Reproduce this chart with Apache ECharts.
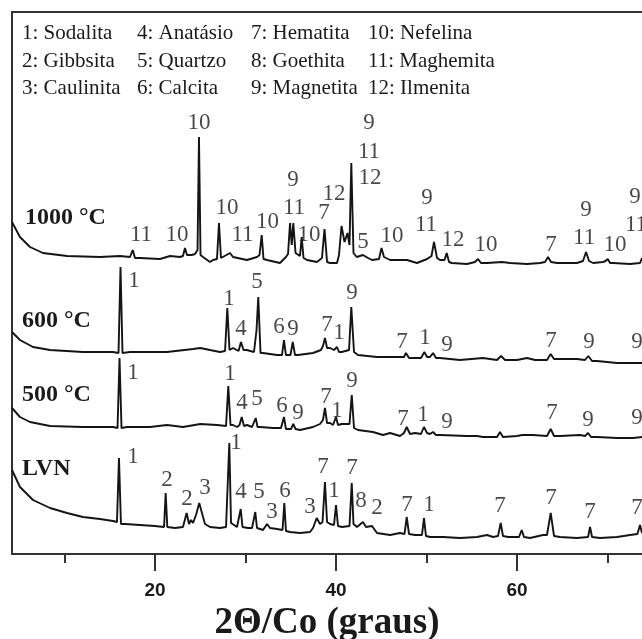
<!DOCTYPE html>
<html><head><meta charset="utf-8">
<script src="https://cdn.jsdelivr.net/npm/echarts@6/dist/echarts.min.js"></script>
<style>html,body{margin:0;padding:0;background:#fff}#c{width:642px;height:639px}</style>
</head><body><div id="c"></div>
<script>
// ---- axis ----
const majorTicks = [20, 40, 60];
const minorTicks = [10, 30, 50, 70];
const axisTitle = '2\u0398/Co (graus)';
const xMin = 4.2, xMax = 73.81;

// ---- legend (phase numbers) ----
const legendCol1 = ['1: Sodalita', '2: Gibbsita', '3: Caulinita'];
const legendCol2 = ['4: Anat\u00e1sio', '5: Quartzo', '6: Calcita'];
const legendCol3 = ['7: Hematita', '8: Goethita', '9: Magnetita'];
const legendCol4 = ['10: Nefelina', '11: Maghemita', '12: Ilmenita'];

const sampleNames = ['1000 \u00b0C', '600 \u00b0C', '500 \u00b0C', 'LVN'];

// ---- diffractograms: [2theta (deg), stacked intensity (a.u.)] ----
const lvn = [[4.20,84],[5.08,67],[6.52,54],[8.40,46],[10.28,41],[12.04,37],[13.92,35],[15.36,33],[15.80,32],[16.02,96],[16.24,30],[16.69,30],[18.34,29],[20.0,28],[21.0,27],[21.18,61],[21.36,27],[22.21,26],[23.09,27],[23.50,41],[23.76,30],[23.98,34],[24.20,31],[24.53,39],[24.89,51],[25.25,39],[25.52,30],[26.08,27],[27.18,26],[27.85,27],[28.01,29],[28.21,111],[28.40,31],[28.62,29],[29.06,27],[29.28,29],[29.47,45],[29.67,27],[30.28,26],[30.72,26],[30.89,27],[31.08,42],[31.27,26],[31.93,24],[32.38,30],[32.71,26],[33.48,25],[34.09,24],[34.29,51],[34.47,23],[34.92,22],[36.02,21],[37.13,22],[37.46,26],[37.87,36],[38.23,30],[38.51,32],[38.78,72],[39.01,32],[39.34,30],[39.78,29],[40.0,49],[40.22,28],[40.66,27],[41.49,28],[41.74,71],[41.93,30],[42.32,27],[42.98,32],[43.31,27],[43.98,28],[44.53,21],[45.97,19],[47.07,21],[47.57,20],[47.81,37],[48.07,20],[48.73,19],[49.50,19],[49.72,36],[49.94,18],[50.39,17],[51.82,17],[53.70,16],[55.58,17],[56.69,19],[57.35,17],[57.90,18],[58.20,31],[58.45,18],[59.01,17],[60.22,17],[60.52,24],[60.77,17],[61.44,16],[62.87,19],[63.31,19],[63.72,41],[64.09,18],[64.75,17],[66.63,16],[67.85,17],[68.07,27],[68.29,17],[69.17,16],[71.05,17],[72.49,19],[73.30,20],[73.59,29],[73.81,21]];

const t500 = [[4.20,146],[5.08,137],[6.19,132],[8.40,128],[12.04,127],[15.36,127],[15.86,126],[16.08,196],[16.30,126],[16.91,127],[19.45,127],[21.33,129],[23.09,127],[25.0,130],[26.85,129],[27.85,128],[28.10,168],[28.34,129],[28.62,129],[29.06,127],[29.34,129],[29.58,137],[29.83,128],[30.17,129],[30.72,127],[30.89,128],[31.13,136],[31.33,127],[31.60,127],[33.04,126],[33.92,126],[34.25,137],[34.47,125],[34.70,125],[35.03,125],[35.28,130],[35.53,125],[36.02,124],[37.46,127],[38.23,130],[38.56,134],[38.78,146],[39.01,131],[39.34,131],[39.67,129],[40.0,137],[40.22,129],[40.63,130],[41.49,130],[41.74,159],[41.99,126],[42.43,124],[44.09,122],[45.19,119],[45.97,121],[47.07,118],[47.51,121],[47.81,127],[48.18,120],[48.73,121],[49.39,120],[49.72,127],[50.06,121],[50.39,120],[50.72,122],[51.05,119],[51.49,119],[54.48,118],[55.58,118],[56.24,117],[57.79,117],[58.12,122],[58.45,117],[60.0,118],[60.56,119],[61.77,119],[63.31,118],[63.72,125],[64.09,118],[64.75,118],[66.96,119],[67.51,118],[67.85,121],[68.18,117],[68.84,117],[71.05,116],[72.82,116],[73.81,117]];

const t600 = [[4.20,222],[5.08,214],[6.52,207],[8.40,204],[12.04,202],[15.36,202],[15.97,201],[16.19,287],[16.41,201],[17.24,202],[21.33,202],[24.20,205],[25.0,206],[26.08,204],[27.18,202],[27.74,203],[27.99,246],[28.23,204],[28.62,206],[29.23,203],[29.50,212],[29.78,204],[30.13,204],[30.94,202],[31.22,224],[31.41,257],[31.66,201],[31.93,201],[33.48,199],[34.03,199],[34.25,214],[34.47,199],[34.70,199],[34.97,199],[35.22,212],[35.47,199],[35.80,199],[37.46,201],[38.34,204],[38.56,208],[38.78,216],[39.01,206],[39.34,206],[39.78,204],[40.11,207],[40.33,202],[40.63,202],[41.44,204],[41.69,247],[41.99,202],[42.43,199],[44.53,197],[46.30,197],[47.51,197],[47.73,201],[48.07,196],[48.73,196],[49.39,196],[49.76,202],[50.06,197],[50.39,197],[50.72,201],[51.05,196],[51.49,196],[53.70,194],[56.24,196],[57.79,194],[58.23,198],[58.68,194],[60.0,194],[61.11,196],[61.99,194],[63.31,194],[63.72,200],[64.09,195],[64.75,195],[66.63,195],[67.51,194],[67.88,198],[68.29,193],[68.84,193],[71.05,191],[73.81,191]];

const t1000 = [[4.20,332],[5.08,317],[6.19,307],[7.62,301],[10.28,298],[13.92,297],[16.13,298],[17.24,297],[17.54,304],[17.79,296],[18.34,296],[20.55,295],[21.66,298],[22.76,297],[23.09,298],[23.31,306],[23.54,299],[24.06,299],[24.42,300],[24.70,304],[24.86,417],[25.03,299],[25.30,297],[26.08,292],[26.41,294],[26.85,295],[27.07,331],[27.29,296],[27.51,297],[28.29,301],[28.62,297],[30.17,294],[31.27,297],[31.55,299],[31.79,319],[31.99,295],[32.38,294],[33.81,291],[34.47,297],[34.70,300],[34.92,331],[35.11,309],[35.28,331],[35.53,301],[35.69,301],[36.02,298],[36.21,317],[36.41,296],[36.80,294],[37.90,292],[38.45,296],[38.73,325],[39.01,292],[39.34,291],[40.11,291],[40.33,299],[40.61,328],[40.94,312],[41.27,321],[41.49,309],[41.69,391],[41.93,301],[42.29,297],[42.98,299],[43.54,296],[43.98,294],[44.75,295],[45.03,306],[45.30,297],[45.97,294],[47.84,294],[48.95,291],[50.06,295],[50.55,298],[50.83,312],[51.16,296],[51.49,294],[51.99,294],[52.23,301],[52.49,292],[52.78,291],[54.48,290],[55.36,292],[55.69,295],[56.02,291],[56.69,291],[58.34,292],[59.23,291],[61.11,290],[62.54,291],[63.09,292],[63.43,297],[63.76,292],[64.42,291],[66.63,291],[67.29,293],[67.63,302],[67.96,293],[68.40,291],[69.50,292],[69.78,293],[70.02,295],[70.28,291],[70.61,291],[72.49,290],[73.59,291],[73.81,296]];

// ---- peak identification labels: [2theta, intensity, phase no.] ----
const lbl1000 = [[18.45,319,'11'],[22.43,319,'10'],[24.86,431,'10'],[27.96,346,'10'],[29.67,319,'11'],[32.43,332,'10'],[35.25,374,'9'],[35.36,346,'11'],[37.02,319,'10'],[39.78,360,'12'],[38.67,341,'7'],[43.65,431,'9'],[43.65,402,'11'],[43.76,376,'12'],[42.98,312,'5'],[46.19,318,'10'],[50.06,356,'9'],[49.94,329,'11'],[52.93,314,'12'],[56.58,309,'10'],[63.76,309,'7'],[67.63,344,'9'],[67.41,316,'11'],[70.83,309,'10'],[73.04,357,'9'],[73.15,329,'11']];
const lbl600 = [[17.68,273,'1'],[28.18,255,'1'],[31.27,272,'5'],[29.50,225,'4'],[33.70,227,'6'],[35.25,225,'9'],[39.01,229,'7'],[40.33,221,'1'],[41.77,261,'9'],[47.29,212,'7'],[49.83,216,'1'],[52.27,209,'9'],[63.76,213,'7'],[67.96,212,'9'],[73.26,212,'9']];
const lbl500 = [[17.57,181,'1'],[28.29,180,'1'],[29.61,151,'4'],[31.27,155,'5'],[34.03,148,'6'],[35.80,141,'9'],[38.89,157,'7'],[40.11,143,'1'],[41.77,173,'9'],[47.40,135,'7'],[49.61,139,'1'],[52.27,132,'9'],[63.87,141,'7'],[67.85,134,'9'],[73.26,136,'9']];
const lblLVN = [[17.57,97,'1'],[28.96,111,'1'],[21.33,74,'2'],[23.54,55,'2'],[25.52,66,'3'],[29.50,62,'4'],[31.49,62,'5'],[32.93,42,'3'],[34.37,63,'6'],[37.13,47,'3'],[38.56,87,'7'],[39.78,63,'1'],[41.77,86,'7'],[42.76,53,'8'],[44.53,46,'2'],[47.84,49,'7'],[50.28,49,'1'],[58.12,48,'7'],[63.76,56,'7'],[68.07,42,'7'],[73.26,46,'7']];

const serif = '"Liberation Serif", "Times New Roman", Times, serif';
const ink = '#1a1a1a';

const chart = echarts.init(document.getElementById('c'), null, {renderer: 'canvas'});

const legendCols = [legendCol1, legendCol2, legendCol3, legendCol4];
const colX = [22, 137, 251, 368];
const rowY = [33, 61, 88];
const graphics = [];
legendCols.forEach((col, ci) => col.forEach((t, ri) => {
  graphics.push({type: 'text', x: colX[ci], y: rowY[ri], silent: true,
    style: {text: t, font: '21px ' + serif, fill: ink, align: 'left', verticalAlign: 'middle', textAlign: 'left', textVerticalAlign: 'middle'}});
}));
const sampleX = [25, 22, 22, 22];
const sampleY = [218, 321, 395, 469];
sampleNames.forEach((t, i) => {
  graphics.push({type: 'text', x: sampleX[i], y: sampleY[i], silent: true,
    style: {text: t, font: 'bold 24px ' + serif, fill: ink, align: 'left', verticalAlign: 'middle', textAlign: 'left', textVerticalAlign: 'middle'}});
});

const axisLineStyle = {color: '#333', width: 2};
const traces = [t1000, t600, t500, lvn];
const labels = [].concat(lbl1000, lbl600, lbl500, lblLVN).map(d => ({value: [d[0], d[1]], name: d[2]}));

const option = {
  animation: false,
  backgroundColor: '#fff',
  grid: {left: 12, right: 0, top: 12, bottom: 85, containLabel: false, outerBoundsMode: 'none'},
  xAxis: [
    {type: 'value', min: xMin, max: xMax, position: 'bottom',
      axisLine: {show: true, onZero: false, lineStyle: axisLineStyle},
      axisTick: {show: true, customValues: majorTicks, length: 17, lineStyle: axisLineStyle},
      axisLabel: {show: true, customValues: majorTicks, margin: 27, fontFamily: '"Liberation Sans", Arial, sans-serif', fontWeight: 'bold', fontSize: 19, color: ink},
      splitLine: {show: false},
      name: axisTitle, nameLocation: 'middle', nameGap: 51,
      nameTextStyle: {fontFamily: serif, fontWeight: 'bold', fontSize: 37, color: ink}},
    {type: 'value', min: xMin, max: xMax, position: 'bottom',
      axisLine: {show: false, onZero: false},
      axisTick: {show: true, customValues: minorTicks, length: 9, lineStyle: axisLineStyle},
      axisLabel: {show: false}, splitLine: {show: false}},
    {type: 'value', min: xMin, max: xMax, position: 'top',
      axisLine: {show: true, onZero: false, lineStyle: axisLineStyle},
      axisTick: {show: false}, axisLabel: {show: false}, splitLine: {show: false}}
  ],
  yAxis: {type: 'value', min: 0, max: 542,
    axisLine: {show: true, onZero: false, lineStyle: axisLineStyle},
    axisTick: {show: false}, axisLabel: {show: false}, splitLine: {show: false}},
  graphic: graphics,
  series: traces.map((d, i) => ({
    type: 'line', name: sampleNames[i], data: d, xAxisIndex: 0, yAxisIndex: 0,
    showSymbol: false, symbol: 'none', smooth: false,
    lineStyle: {color: '#141414', width: 1.9}, z: 3, silent: true
  })).concat([{
    type: 'scatter', data: labels, xAxisIndex: 0, yAxisIndex: 0,
    symbol: 'circle', symbolSize: 1, itemStyle: {color: 'rgba(0,0,0,0)'},
    label: {show: true, position: 'inside', formatter: '{b}', fontFamily: serif, fontSize: 23, color: ink, textBorderWidth: 0},
    silent: true, z: 5
  }])
};
chart.setOption(option);
</script></body></html>
